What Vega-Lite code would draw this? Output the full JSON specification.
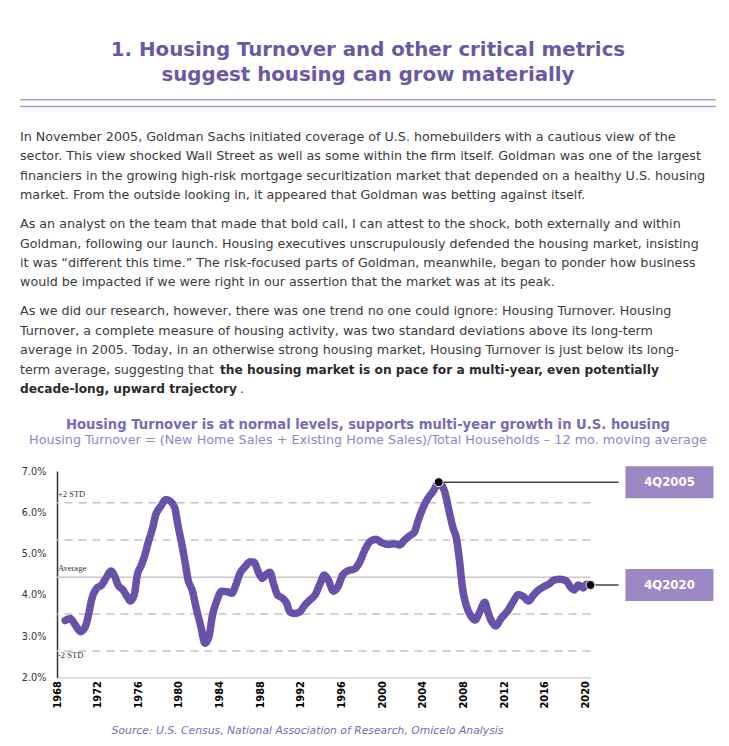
{
  "$schema": "https://vega.github.io/schema/vega-lite/v6.json",
  "padding": {"left": 19, "top": 40, "right": 5, "bottom": 5},
  "background": "white",
  "config": {
    "view": {"stroke": null},
    "font": "DejaVu Sans",
    "text": {"font": "DejaVu Sans"}
  },
  "columns": 1,
  "align": "none",
  "spacing": 9.2,
  "concat": [
    {
      "width": 622,
      "height": 20.1,
      "title": {
        "text": ["1. Housing Turnover and other critical metrics", "suggest housing can grow materially"],
        "anchor": "middle",
        "fontSize": 19.8,
        "fontWeight": "bold",
        "color": "#6a58a5",
        "lineHeight": 25,
        "offset": 12,
        "font": "DejaVu Sans"
      },
      "data": {"values": [{"rule": "upper"}, {"rule": "lower"}]},
      "mark": {"type": "rule", "color": "#a99bd0", "strokeWidth": 1.5},
      "encoding": {
        "x": {"value": -37},
        "x2": {"value": 659},
        "y": {"field": "rule", "type": "nominal", "sort": ["upper", "lower"], "axis": null,
              "scale": {"type": "point", "padding": 1.51, "align": 0.2}}
      }
    },
    {
      "width": 622,
      "height": 77.8,
      "data": {"values": [
        {"line": 1, "text": "In November 2005, Goldman Sachs initiated coverage of U.S. homebuilders with a cautious view of the"},
        {"line": 2, "text": "sector. This view shocked Wall Street as well as some within the firm itself. Goldman was one of the largest"},
        {"line": 3, "text": "financiers in the growing high-risk mortgage securitization market that depended on a healthy U.S. housing"},
        {"line": 4, "text": "market. From the outside looking in, it appeared that Goldman was betting against itself."}
      ]},
      "mark": {"type": "text", "align": "left", "baseline": "middle", "fontSize": 12.7, "color": "#3a3a3a"},
      "encoding": {
        "x": {"value": -37},
        "y": {"field": "line", "type": "ordinal", "axis": null, "scale": {"type": "point", "padding": 0.5}},
        "text": {"field": "text"}
      }
    },
    {
      "width": 622,
      "height": 77.8,
      "data": {"values": [
        {"line": 1, "text": "As an analyst on the team that made that bold call, I can attest to the  shock, both externally and within"},
        {"line": 2, "text": "Goldman, following our launch. Housing executives unscrupulously defended the housing market, insisting"},
        {"line": 3, "text": "it was “different this time.” The risk-focused parts of Goldman, meanwhile, began to ponder how business"},
        {"line": 4, "text": "would be impacted if we were right in our assertion that the market was at its peak."}
      ]},
      "mark": {"type": "text", "align": "left", "baseline": "middle", "fontSize": 12.7, "color": "#3a3a3a"},
      "encoding": {
        "x": {"value": -37},
        "y": {"field": "line", "type": "ordinal", "axis": null, "scale": {"type": "point", "padding": 0.5}},
        "text": {"field": "text"}
      }
    },
    {
      "width": 622,
      "height": 97.25,
      "encoding": {
        "x": {"value": -37},
        "y": {"field": "line", "type": "ordinal", "axis": null, "scale": {"type": "point", "padding": 0.5}},
        "text": {"field": "text"}
      },
      "layer": [
        {
          "data": {"values": [
            {"line": 1, "text": "As we did our research, however, there was one trend no one could ignore: Housing Turnover. Housing"},
            {"line": 2, "text": "Turnover, a complete measure of housing activity, was two standard deviations above its long-term"},
            {"line": 3, "text": "average in 2005. Today, in an otherwise strong housing market, Housing Turnover is just below its long-"},
            {"line": 4, "text": "term average, suggesting that"}
          ]},
          "mark": {"type": "text", "align": "left", "baseline": "middle", "fontSize": 12.7, "color": "#3a3a3a"}
        },
        {
          "data": {"values": [
            {"line": 4, "text": "the housing market is on pace for a multi-year, even potentially"}
          ]},
          "mark": {"type": "text", "align": "left", "baseline": "middle", "fontSize": 12.2, "fontWeight": "bold", "color": "#2a2a2a", "dx": 200}
        },
        {
          "data": {"values": [
            {"line": 5, "text": "decade-long, upward trajectory"}
          ]},
          "mark": {"type": "text", "align": "left", "baseline": "middle", "fontSize": 12.2, "fontWeight": "bold", "color": "#2a2a2a"}
        },
        {
          "data": {"values": [
            {"line": 5, "text": "."}
          ]},
          "mark": {"type": "text", "align": "left", "baseline": "middle", "fontSize": 12.7, "color": "#3a3a3a", "dx": 220}
        }
      ]
    },
    {
      "width": 622,
      "height": 46.6,
      "data": {"values": [
        {"kind": "title", "text": "Housing Turnover is at normal levels, supports multi-year growth in U.S. housing"},
        {"kind": "subtitle", "text": "Housing Turnover = (New Home Sales + Existing Home Sales)/Total Households – 12 mo. moving average"}
      ]},
      "encoding": {
        "x": {"value": 311},
        "y": {"field": "kind", "type": "nominal", "sort": ["title", "subtitle"], "axis": null,
              "scale": {"type": "point", "padding": 1.053, "align": 0.516}},
        "text": {"field": "text"}
      },
      "layer": [
        {
          "transform": [{"filter": "datum.kind === 'title'"}],
          "mark": {"type": "text", "align": "center", "baseline": "middle", "fontSize": 13.2, "fontWeight": "bold", "color": "#7b69b3"}
        },
        {
          "transform": [{"filter": "datum.kind === 'subtitle'"}],
          "mark": {"type": "text", "align": "center", "baseline": "middle", "fontSize": 12.8, "color": "#9584c4"}
        }
      ]
    },
    {
      "width": 533.5,
      "height": 206.5,
      "layer": [
        {
          "data": {"values": [
            {"name": "+2 STD", "value": 6.23},
            {"name": "+1 STD", "value": 5.33},
            {"name": "Average", "value": 4.43},
            {"name": "-1 STD", "value": 3.54},
            {"name": "-2 STD", "value": 2.64}
          ]},
          "layer": [
            {
              "transform": [{"filter": "datum.name !== 'Average'"}],
              "mark": {"type": "rule", "color": "#c2c2c2", "strokeWidth": 1.5, "strokeDash": [8, 6]},
              "encoding": {"y": {"field": "value", "type": "quantitative"}}
            },
            {
              "transform": [{"filter": "datum.name === 'Average'"}],
              "mark": {"type": "rule", "color": "#c8c8c8", "strokeWidth": 1.5},
              "encoding": {"y": {"field": "value", "type": "quantitative"}}
            },
            {
              "transform": [{"filter": "datum.name === '+2 STD' || datum.name === 'Average'"}],
              "mark": {"type": "text", "align": "left", "baseline": "bottom", "dx": 1, "dy": -4, "font": "Liberation Serif", "fontSize": 8.5, "color": "#333"},
              "encoding": {"x": {"value": 0}, "y": {"field": "value", "type": "quantitative"}, "text": {"field": "name"}}
            },
            {
              "transform": [{"filter": "datum.name === '-2 STD'"}],
              "mark": {"type": "text", "align": "left", "baseline": "middle", "dx": 1, "dy": 4, "font": "Liberation Serif", "fontSize": 8.5, "color": "#333"},
              "encoding": {"x": {"value": 0}, "y": {"field": "value", "type": "quantitative"}, "text": {"field": "name"}}
            }
          ]
        },
        {
          "data": {"values": [
            {"year": 1968.8, "value": 3.38}, {"year": 1969.3, "value": 3.43}, {"year": 1969.8, "value": 3.27},
            {"year": 1970.3, "value": 3.11}, {"year": 1970.75, "value": 3.21}, {"year": 1971.1, "value": 3.51},
            {"year": 1971.4, "value": 3.88}, {"year": 1971.9, "value": 4.16}, {"year": 1972.4, "value": 4.24},
            {"year": 1972.9, "value": 4.44}, {"year": 1973.3, "value": 4.58}, {"year": 1973.7, "value": 4.44},
            {"year": 1974.0, "value": 4.24}, {"year": 1974.5, "value": 4.12}, {"year": 1974.9, "value": 3.96},
            {"year": 1975.2, "value": 3.85}, {"year": 1975.6, "value": 4.0}, {"year": 1975.9, "value": 4.48},
            {"year": 1976.3, "value": 4.72}, {"year": 1976.65, "value": 4.97}, {"year": 1977.0, "value": 5.29},
            {"year": 1977.4, "value": 5.61}, {"year": 1977.7, "value": 5.93}, {"year": 1978.2, "value": 6.14},
            {"year": 1978.7, "value": 6.31}, {"year": 1979.2, "value": 6.26}, {"year": 1979.6, "value": 6.1},
            {"year": 1979.9, "value": 5.69}, {"year": 1980.3, "value": 5.21}, {"year": 1980.6, "value": 4.8},
            {"year": 1980.9, "value": 4.36}, {"year": 1981.3, "value": 4.12}, {"year": 1981.7, "value": 3.68},
            {"year": 1982.2, "value": 3.19}, {"year": 1982.55, "value": 2.83}, {"year": 1982.95, "value": 2.99},
            {"year": 1983.3, "value": 3.51}, {"year": 1983.7, "value": 3.84}, {"year": 1984.2, "value": 4.09},
            {"year": 1984.7, "value": 4.08}, {"year": 1985.2, "value": 4.04}, {"year": 1985.6, "value": 4.24},
            {"year": 1986.0, "value": 4.52}, {"year": 1986.5, "value": 4.68}, {"year": 1987.0, "value": 4.8},
            {"year": 1987.4, "value": 4.79}, {"year": 1987.8, "value": 4.56}, {"year": 1988.2, "value": 4.4},
            {"year": 1988.6, "value": 4.5}, {"year": 1988.95, "value": 4.55}, {"year": 1989.3, "value": 4.28},
            {"year": 1989.7, "value": 4.0}, {"year": 1990.2, "value": 3.92}, {"year": 1990.6, "value": 3.8},
            {"year": 1990.9, "value": 3.59}, {"year": 1991.4, "value": 3.55}, {"year": 1991.9, "value": 3.59},
            {"year": 1992.4, "value": 3.76}, {"year": 1992.9, "value": 3.88}, {"year": 1993.4, "value": 4.0},
            {"year": 1993.9, "value": 4.28}, {"year": 1994.3, "value": 4.48}, {"year": 1994.7, "value": 4.36},
            {"year": 1995.2, "value": 4.09}, {"year": 1995.65, "value": 4.2}, {"year": 1996.1, "value": 4.48},
            {"year": 1996.6, "value": 4.58}, {"year": 1997.3, "value": 4.63}, {"year": 1997.8, "value": 4.8},
            {"year": 1998.3, "value": 5.09}, {"year": 1998.8, "value": 5.29}, {"year": 1999.4, "value": 5.35},
            {"year": 1999.9, "value": 5.27}, {"year": 2000.6, "value": 5.22}, {"year": 2001.2, "value": 5.24},
            {"year": 2001.7, "value": 5.21}, {"year": 2002.2, "value": 5.33}, {"year": 2002.7, "value": 5.43},
            {"year": 2003.2, "value": 5.53}, {"year": 2003.5, "value": 5.77}, {"year": 2004.0, "value": 6.1},
            {"year": 2004.5, "value": 6.34}, {"year": 2005.0, "value": 6.5}, {"year": 2005.56, "value": 6.72},
            {"year": 2006.15, "value": 6.5}, {"year": 2006.6, "value": 6.01}, {"year": 2007.0, "value": 5.6},
            {"year": 2007.3, "value": 5.38}, {"year": 2007.6, "value": 4.85}, {"year": 2007.9, "value": 4.17},
            {"year": 2008.25, "value": 3.76}, {"year": 2008.7, "value": 3.5}, {"year": 2009.15, "value": 3.39},
            {"year": 2009.6, "value": 3.59}, {"year": 2010.1, "value": 3.82}, {"year": 2010.4, "value": 3.59},
            {"year": 2010.7, "value": 3.39}, {"year": 2011.2, "value": 3.25}, {"year": 2011.7, "value": 3.43},
            {"year": 2012.4, "value": 3.63}, {"year": 2012.9, "value": 3.84}, {"year": 2013.4, "value": 4.01},
            {"year": 2013.9, "value": 3.96}, {"year": 2014.4, "value": 3.85}, {"year": 2014.9, "value": 4.0},
            {"year": 2015.4, "value": 4.12}, {"year": 2015.9, "value": 4.2}, {"year": 2016.4, "value": 4.26},
            {"year": 2016.9, "value": 4.36}, {"year": 2017.5, "value": 4.38}, {"year": 2018.1, "value": 4.34},
            {"year": 2018.6, "value": 4.17}, {"year": 2018.9, "value": 4.12}, {"year": 2019.3, "value": 4.24},
            {"year": 2019.8, "value": 4.17}, {"year": 2020.1, "value": 4.26}, {"year": 2020.5, "value": 4.24}
          ]},
          "mark": {"type": "line", "color": "#6851a9", "strokeWidth": 7.5, "strokeCap": "round", "strokeJoin": "round", "interpolate": "monotone"},
          "encoding": {
            "x": {"field": "year", "type": "quantitative",
                  "scale": {"domain": [1968, 2020.5], "nice": false, "zero": false},
                  "axis": {
                    "values": [1968, 1972, 1976, 1980, 1984, 1988, 1992, 1996, 2000, 2004, 2008, 2012, 2016, 2020],
                    "format": "d", "labelAngle": 270, "labelAlign": "right", "labelBaseline": "middle",
                    "labelFontWeight": "bold", "labelFontSize": 11, "labelColor": "#000", "labelPadding": 3,
                    "labelFont": "DejaVu Sans Condensed, DejaVu Sans",
                    "ticks": false, "grid": false, "domainColor": "#dddddd", "domainWidth": 2,
                    "title": "Source: U.S. Census, National Association of Research, Omicelo Analysis",
                    "titleFont": "DejaVu Sans", "titleFontStyle": "italic",
                    "titleFontWeight": "normal", "titleFontSize": 10.8, "titleColor": "#7a68b2",
                    "titlePadding": 16, "titleX": 250
                  }},
            "y": {"field": "value", "type": "quantitative",
                  "scale": {"domain": [2, 7], "nice": false, "zero": false},
                  "axis": {
                    "values": [2, 3, 4, 5, 6, 7],
                    "labelExpr": "format(datum.value, '.1f') + '%'",
                    "labelFontSize": 10.8, "labelColor": "#333", "labelPadding": 11,
                    "labelFont": "DejaVu Sans Condensed, DejaVu Sans",
                    "ticks": false, "grid": false, "domainColor": "#333333", "domainWidth": 1.5,
                    "title": null
                  }}
          }
        },
        {
          "data": {"values": [
            {"label": "4Q2005", "year": 2005.56, "value": 6.73},
            {"label": "4Q2020", "year": 2020.5, "value": 4.24}
          ]},
          "layer": [
            {
              "mark": {"type": "rule", "color": "#444", "strokeWidth": 1.5},
              "encoding": {
                "x": {"field": "year", "type": "quantitative"},
                "x2": {"datum": 2023.26},
                "y": {"field": "value", "type": "quantitative"}
              }
            },
            {
              "mark": {"type": "point", "filled": true, "color": "#000", "size": 80, "opacity": 1, "stroke": "white", "strokeWidth": 1},
              "encoding": {
                "x": {"field": "year", "type": "quantitative"},
                "y": {"field": "value", "type": "quantitative"}
              }
            },
            {
              "mark": {"type": "point", "filled": true, "color": "#9c88c5", "opacity": 1, "size": 7744,
                       "shape": "M-1,-0.3636L1,-0.3636L1,0.3636L-1,0.3636Z"},
              "encoding": {
                "x": {"datum": 2028.27, "type": "quantitative"},
                "y": {"field": "value", "type": "quantitative"}
              }
            },
            {
              "mark": {"type": "text", "color": "white", "fontWeight": "bold", "fontSize": 13, "align": "center", "baseline": "middle", "font": "DejaVu Sans Condensed, DejaVu Sans"},
              "encoding": {
                "x": {"datum": 2028.27, "type": "quantitative"},
                "y": {"field": "value", "type": "quantitative"},
                "text": {"field": "label"}
              }
            }
          ]
        }
      ]
    }
  ]
}
